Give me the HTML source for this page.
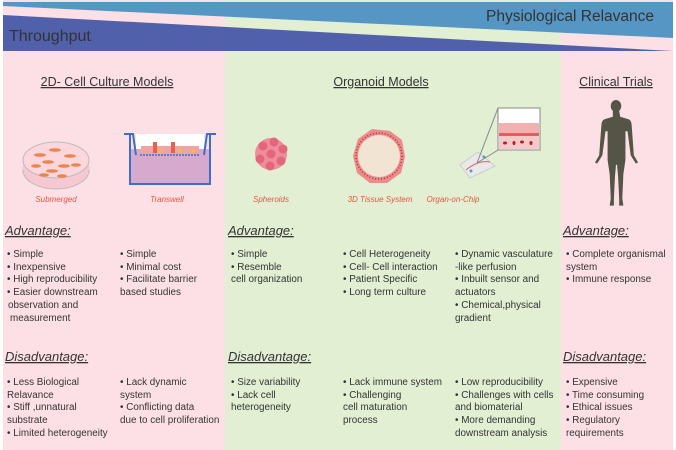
<!DOCTYPE html>
<html><head><meta charset="utf-8"><style>
html,body{margin:0;padding:0;background:#fff}
svg{display:block}
text{font-family:"Liberation Sans","DejaVu Sans",sans-serif;fill:#333}
.h{font-size:12.5px;text-decoration:underline}
.ad{font-size:13px;font-style:italic;text-decoration:underline}
.t{font-size:9.9px}
.c{font-size:8px;font-style:italic;fill:#e8553f}
</style></head><body>
<svg width="676" height="450" viewBox="0 0 676 450" xmlns="http://www.w3.org/2000/svg">
<rect x="3" y="0" width="222" height="450" fill="#fde0e5"/>
<rect x="225" y="0" width="336" height="450" fill="#e2efd3"/>
<rect x="561" y="0" width="112" height="450" fill="#fde0e5"/>
<polygon points="3,2 673,2 673,38 3,6" fill="#5596c4"/>
<polygon points="3,15 673,51 3,51" fill="#5060aa"/>
<text x="486" y="21" font-size="15.5">Physiological Relavance</text>
<text x="9" y="41" font-size="16">Throughput</text>
<text x="107" y="86" text-anchor="middle" class="h">2D- Cell Culture Models</text>
<text x="381" y="86" text-anchor="middle" class="h">Organoid Models</text>
<text x="616" y="86" text-anchor="middle" class="h">Clinical Trials</text>
<!-- petri dish -->
<ellipse cx="56" cy="170" rx="33" ry="19" fill="#f6c8d2" stroke="#bbb"/>
<rect x="23" y="160" width="66" height="10" fill="#f6c8d2"/>
<ellipse cx="56" cy="160" rx="33" ry="18" fill="#fbd6dd" stroke="#bbb"/>
<g fill="#e8864e"><ellipse cx="40" cy="155" rx="6" ry="1.8"/><ellipse cx="55" cy="150" rx="6" ry="1.8"/><ellipse cx="70" cy="156" rx="6" ry="1.8"/><ellipse cx="48" cy="162" rx="6" ry="1.8"/><ellipse cx="64" cy="166" rx="6" ry="1.8"/><ellipse cx="36" cy="166" rx="5" ry="1.8"/><ellipse cx="52" cy="171" rx="6" ry="1.8"/><ellipse cx="76" cy="165" rx="5" ry="1.8"/><ellipse cx="44" cy="175" rx="5" ry="1.8"/><ellipse cx="62" cy="176" rx="5" ry="1.8"/></g>
<text x="56" y="202" text-anchor="middle" class="c">Submerged</text>
<!-- transwell -->
<rect x="130" y="149" width="80" height="35" fill="#d6a9cf"/>
<rect x="136" y="134" width="68" height="15" fill="#fff"/>
<g fill="#f0a3a3"><rect x="141" y="146" width="58" height="8"/></g>
<g fill="#e8604a"><rect x="153" y="142" width="4" height="11"/><rect x="171" y="142" width="4" height="11"/></g>
<g fill="#f5b84a"><circle cx="160" cy="151" r="2"/><circle cx="180" cy="151" r="2"/><circle cx="193" cy="151" r="2"/></g>
<line x1="140" y1="155" x2="200" y2="155" stroke="#3f6fc4" stroke-width="1.5" stroke-dasharray="2 1"/>
<polyline points="124,134 133,134 136,155" fill="none" stroke="#3f6fc4" stroke-width="2"/>
<polyline points="216,134 207,134 204,155" fill="none" stroke="#3f6fc4" stroke-width="2"/>
<polyline points="130,134 130,184 210,184 210,134" fill="none" stroke="#3f6fc4" stroke-width="2"/>
<text x="167" y="202" text-anchor="middle" class="c">Transwell</text>
<!-- spheroid -->
<g fill="#e4667a"><circle cx="271" cy="154" r="16" fill="#ee8d9b"/><circle cx="263" cy="146" r="4.5"/><circle cx="274" cy="142" r="4.5"/><circle cx="283" cy="149" r="4.5"/><circle cx="281" cy="161" r="4.5"/><circle cx="270" cy="166" r="4.5"/><circle cx="260" cy="159" r="4.5"/><circle cx="271" cy="154" r="4.5"/></g>
<text x="271" y="202" text-anchor="middle" class="c">Spheroids</text>
<!-- 3D tissue -->
<polygon points="372,129 390,131 402,140 405,157 401,173 387,183 370,183 357,173 353,156 358,139" fill="#ec8a8c"/>
<circle cx="379" cy="156" r="23" fill="none" stroke="#a33" stroke-width="1.5" stroke-dasharray="1 2"/>
<circle cx="379" cy="156" r="21" fill="#f2e4d3"/>
<text x="380" y="202" text-anchor="middle" class="c">3D Tissue System</text>
<!-- organ on chip -->
<polygon points="478,152 495,166 470,178 460,165" fill="#e9e9e9" stroke="#ccc"/>
<path d="M466,170 Q478,160 490,162" stroke="#e06060" fill="none"/>
<circle cx="484" cy="157" r="1.5" fill="#4aa0d8"/><circle cx="471" cy="171" r="1.5" fill="#4aa0d8"/>
<line x1="477" y1="163" x2="498" y2="108" stroke="#888"/><line x1="477" y1="163" x2="498" y2="150" stroke="#888"/>
<rect x="498" y="108" width="42" height="42" fill="#fff" stroke="#888"/>
<rect x="499" y="123" width="40" height="10" fill="#f2b0b0"/>
<rect x="499" y="133" width="40" height="3" fill="#e06060"/>
<rect x="499" y="136" width="40" height="13" fill="#f6c9c9"/>
<g fill="#b0202a"><ellipse cx="505" cy="143" rx="2" ry="1.5"/><ellipse cx="514" cy="143" rx="1.5" ry="2"/><ellipse cx="522" cy="142" rx="2" ry="1.5"/><ellipse cx="531" cy="143" rx="1.5" ry="2"/></g>
<text x="453" y="202" text-anchor="middle" class="c">Organ-on-Chip</text>
<!-- human -->
<g fill="#545547" transform="translate(616,100) scale(1.05,1.2) translate(-616,-100)">
<ellipse cx="616" cy="105" rx="5" ry="5"/>
<path d="M613,109 h6 l1,5 l8,2 q3,1 3,6 l2,24 l4,6 l-2,1 l-3,-4 l-2,-3 l-3,-20 l-2,0 l0,24 l-2,12 l-1,20 l1,6 l-4,0 l0,-6 l-1,-18 l-1,-10 l-1,0 l-1,10 l-1,18 l0,6 l-4,0 l1,-6 l-1,-20 l-2,-12 l0,-24 l-2,0 l-3,20 l-2,3 l-3,4 l-2,-1 l4,-6 l2,-24 q0,-5 3,-6 l8,-2 z"/>
</g>
<!-- headings -->
<text x="5" y="235" class="ad">Advantage:</text><text x="228" y="235" class="ad">Advantage:</text><text x="563" y="235" class="ad">Advantage:</text>
<text x="5" y="361" class="ad">Disadvantage:</text><text x="228" y="361" class="ad">Disadvantage:</text><text x="563" y="361" class="ad">Disadvantage:</text>
<g>
<text x="7" y="257" class="t">• Simple</text><text x="7" y="270" class="t">• Inexpensive</text><text x="7" y="282" class="t">• High reproducibility</text><text x="7" y="295" class="t">• Easier downstream</text><text x="8" y="308" class="t">observation and</text><text x="10" y="321" class="t">measurement</text>
<text x="120" y="257" class="t">• Simple</text><text x="120" y="270" class="t">• Minimal cost</text><text x="120" y="282" class="t">• Facilitate barrier</text><text x="120" y="295" class="t">based studies</text>
<text x="231" y="257" class="t">• Simple</text><text x="231" y="270" class="t">• Resemble</text><text x="231" y="282" class="t">cell organization</text>
<text x="343" y="257" class="t">• Cell Heterogeneity</text><text x="343" y="270" class="t">• Cell- Cell interaction</text><text x="343" y="282" class="t">• Patient Specific</text><text x="343" y="295" class="t">• Long term culture</text>
<text x="455" y="257" class="t">• Dynamic vasculature</text><text x="455" y="270" class="t">-like perfusion</text><text x="455" y="282" class="t">• Inbuilt sensor and</text><text x="455" y="295" class="t">actuators</text><text x="455" y="308" class="t">• Chemical,physical</text><text x="455" y="321" class="t">gradient</text>
<text x="566" y="257" class="t">• Complete organismal</text><text x="566" y="270" class="t">system</text><text x="566" y="282" class="t">• Immune response</text>
<text x="7" y="385" class="t">• Less Biological</text><text x="7" y="398" class="t">Relavance</text><text x="7" y="410" class="t">• Stiff ,unnatural</text><text x="7" y="423" class="t">substrate</text><text x="7" y="436" class="t">• Limited heterogeneity</text>
<text x="120" y="385" class="t">• Lack dynamic</text><text x="120" y="398" class="t">system</text><text x="120" y="410" class="t">• Conflicting data</text><text x="120" y="423" class="t">due  to cell proliferation</text>
<text x="231" y="385" class="t">• Size variability</text><text x="231" y="398" class="t">• Lack cell</text><text x="231" y="410" class="t">heterogeneity</text>
<text x="343" y="385" class="t">• Lack immune system</text><text x="343" y="398" class="t">• Challenging</text><text x="343" y="410" class="t">cell maturation</text><text x="343" y="423" class="t">process</text>
<text x="455" y="385" class="t">• Low reproducibility</text><text x="455" y="398" class="t">• Challenges with cells</text><text x="455" y="410" class="t">and biomaterial</text><text x="455" y="423" class="t">• More demanding</text><text x="455" y="436" class="t">downstream analysis</text>
<text x="566" y="385" class="t">• Expensive</text><text x="566" y="398" class="t">• Time consuming</text><text x="566" y="410" class="t">• Ethical issues</text><text x="566" y="423" class="t">• Regulatory</text><text x="566" y="436" class="t">requirements</text>
</g>
</svg>
</body></html>
